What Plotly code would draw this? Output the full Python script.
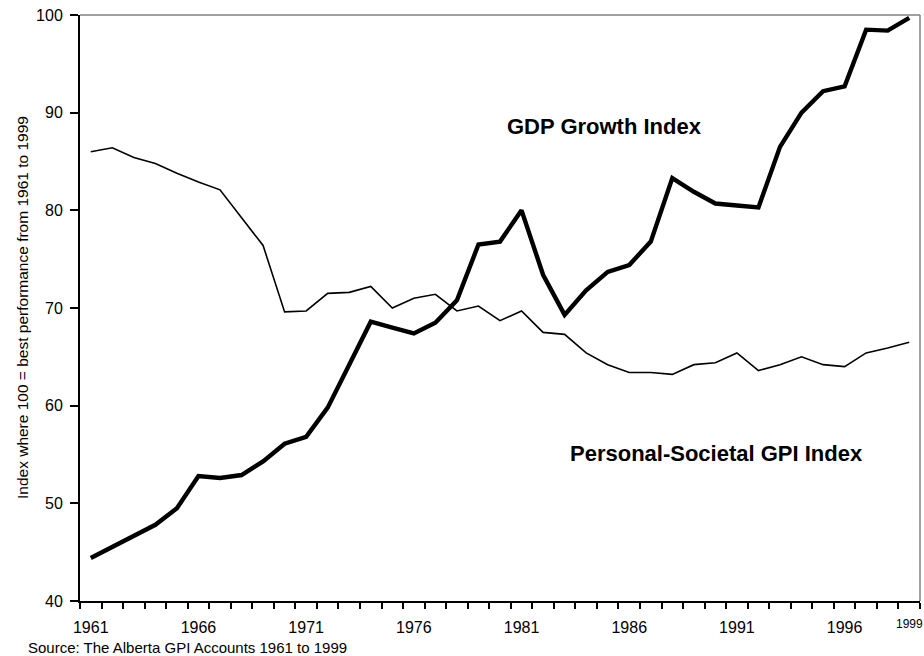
import plotly.graph_objects as go

years = list(range(1961, 2000))
gdp_index = [44.4, 45.5, 46.6, 47.8, 49.5, 52.8, 52.6, 52.9, 54.3, 56.1,
             56.8, 59.8, 64.2, 68.6, 68.0, 67.4, 68.5, 70.8, 76.5, 76.8,
             80.0, 73.4, 69.3, 71.8, 73.7, 74.4, 76.8, 83.3, 81.9, 80.7,
             80.5, 80.3, 86.5, 90.0, 92.2, 92.7, 98.5, 98.4, 99.7]
gpi_index = [86.0, 86.4, 85.4, 84.8, 83.8, 82.9, 82.1, 79.2, 76.4, 69.6,
             69.7, 71.5, 71.6, 72.2, 70.0, 71.0, 71.4, 69.7, 70.2, 68.7,
             69.7, 67.5, 67.3, 65.4, 64.2, 63.4, 63.4, 63.2, 64.2, 64.4,
             65.4, 63.6, 64.2, 65.0, 64.2, 64.0, 65.4, 65.9, 66.5]
x_tick_years = [1961, 1966, 1971, 1976, 1981, 1986, 1991, 1996]
y_ticks = [40, 50, 60, 70, 80, 90, 100]

FONT = "Liberation Sans, Arial, sans-serif"

fig = go.Figure()
fig.add_trace(go.Scatter(x=years, y=gpi_index, mode="lines",
                         line=dict(color="black", width=1.6),
                         name="Personal-Societal GPI Index", hoverinfo="x+y"))
fig.add_trace(go.Scatter(x=years, y=gdp_index, mode="lines",
                         line=dict(color="black", width=4.4),
                         name="GDP Growth Index", hoverinfo="x+y"))

fig.update_layout(
    width=924, height=656,
    margin=dict(l=80, r=4, t=15, b=55),
    paper_bgcolor="white", plot_bgcolor="white",
    showlegend=False,
    font=dict(family=FONT, color="black", size=16),
    xaxis=dict(
        range=[1960.5, 1999.5],
        tickmode="array", tickvals=x_tick_years,
        ticktext=[str(y) for y in x_tick_years],
        ticks="", showgrid=False, zeroline=False,
        showline=True, linecolor="black", linewidth=2,
        tickfont=dict(size=16, family=FONT, color="black"),
        ticklabelstandoff=11,
        minor=dict(tick0=1960.5, dtick=1, ticks="outside", ticklen=6,
                   tickwidth=1.5, tickcolor="black", showgrid=False),
    ),
    yaxis=dict(
        range=[40, 100],
        tickmode="array", tickvals=y_ticks,
        ticks="outside", ticklen=8, tickwidth=1.5, tickcolor="black",
        showgrid=False, zeroline=False,
        showline=True, linecolor="black", linewidth=2,
        tickfont=dict(size=16, family=FONT, color="black"),
        ticklabelstandoff=4,
    ),
    shapes=[
        dict(type="line", xref="paper", yref="paper", x0=0, x1=1, y0=1, y1=1,
             line=dict(color="#808080", width=1.5)),
        dict(type="line", xref="paper", yref="paper", x0=1, x1=1, y0=0, y1=1,
             line=dict(color="#808080", width=1.5)),
    ],
    annotations=[
        dict(text="<b>GDP Growth Index</b>", x=1984.84, y=88.6, xref="x", yref="y",
             showarrow=False, font=dict(size=22, family=FONT, color="black"),
             xanchor="center", yanchor="middle"),
        dict(text="<b>Personal-Societal GPI Index</b>", x=1990.05, y=55.1, xref="x", yref="y",
             showarrow=False, font=dict(size=22, family=FONT, color="black"),
             xanchor="center", yanchor="middle"),
        dict(text="Index where 100 = best performance from 1961 to 1999",
             textangle=-90, x=-0.069, y=0.5, xref="paper", yref="paper",
             showarrow=False, font=dict(size=15.5, family=FONT, color="black"),
             xanchor="center", yanchor="middle"),
        dict(text="Source: The Alberta GPI Accounts 1961 to 1999",
             x=-0.0643, y=-0.079, xref="paper", yref="paper",
             showarrow=False, font=dict(size=15, family=FONT, color="black"),
             xanchor="left", yanchor="middle"),
        dict(text="1999", x=1999, y=-0.04, xref="x", yref="paper",
             showarrow=False, font=dict(size=12, family=FONT, color="black"),
             xanchor="center", yanchor="middle"),
    ],
)

fig.write_html(
    "out.html",
    config={"displayModeBar": False},
    post_script="document.body.style.margin='0';document.body.style.overflow='hidden';",
)
